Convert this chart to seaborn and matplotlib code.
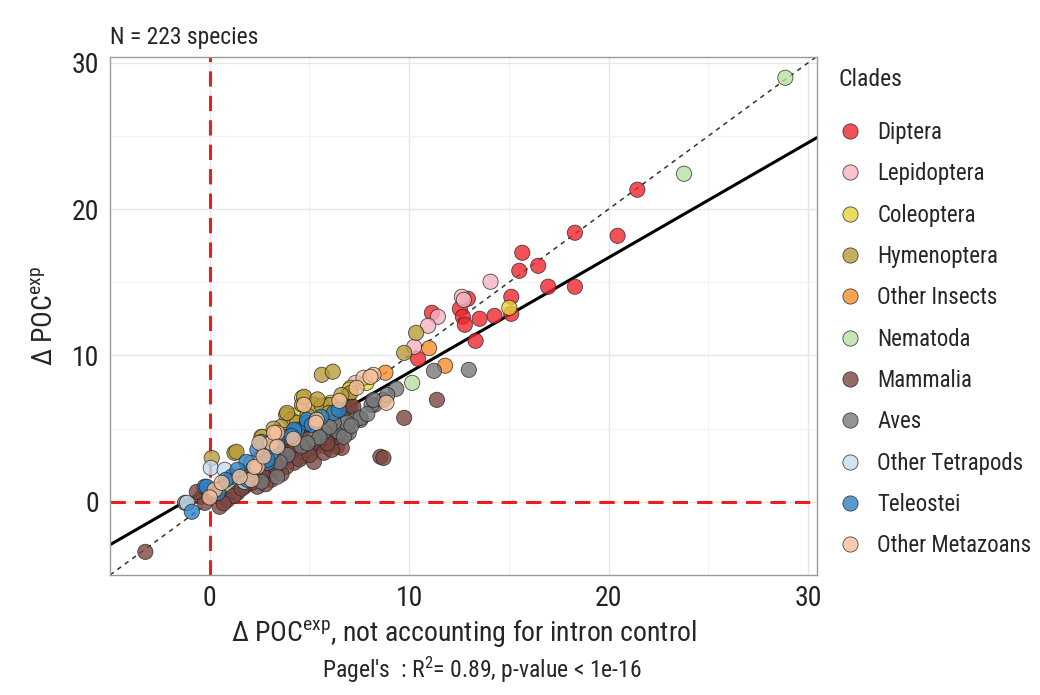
import matplotlib
matplotlib.use('Agg')
import matplotlib.pyplot as plt
from matplotlib import font_manager as fm
import seaborn as sns
import pandas as pd

# ── Data ──────────────────────────────────────────────────────
CLADES = ['Diptera', 'Lepidoptera', 'Coleoptera', 'Hymenoptera', 'Other Insects',
          'Nematoda', 'Mammalia', 'Aves', 'Other Tetrapods', 'Teleostei',
          'Other Metazoans']
PALETTE = ['#f0262e', '#f5b3c0', '#e8d23a', '#b89b3a', '#f58d2c',
           '#b8e0a0', '#7b4640', '#787878', '#c4dcee', '#2f80c0', '#f4c09c']

diptera_x = [21.44, 20.45, 18.31, 18.31, 16.97, 16.47, 15.67, 15.52, 15.12, 14.28,
             13.53, 13.33, 12.94, 12.54, 12.69, 12.79, 15.12, 11.14, 10.45]
diptera_y = [21.33, 18.18, 18.39, 14.70, 14.70, 16.13, 17.02, 15.79, 14.01, 12.71,
             12.51, 11.00, 13.88, 13.19, 12.65, 12.10, 12.85, 12.92, 9.77]

lepido_x = [14.08, 12.64, 11.44, 10.95, 10.25, 7.31, 12.74]
lepido_y = [15.04, 14.01, 12.65, 12.03, 10.59, 8.13, 13.80]

coleo_x = [15.02, 7.86, 7.06, 7.01, 6.07, 4.63, 2.59, 5.90, 4.30]
coleo_y = [13.26, 8.13, 7.79, 7.66, 6.77, 7.10, 4.44, 6.60, 5.90]

hymeno_x = [0.10, 1.24, 5.62, 6.17, 3.83, 4.08, 10.35, 9.75, 6.97, 4.38,
            4.63, 5.22, 5.62, 6.07, 6.22, 3.58, 2.64, 1.34, 3.88, 4.73,
            5.97, 7.06, 4.90, 3.20, 5.40, 2.90, 6.60]
hymeno_y = [3.00, 3.35, 8.68, 8.89, 5.95, 5.60, 11.55, 10.18, 7.31, 5.40,
            6.63, 6.63, 6.56, 6.63, 5.95, 5.13, 4.44, 3.42, 6.08, 7.18,
            6.08, 7.45, 5.90, 5.00, 7.00, 4.00, 7.30]

oinsect_x = [8.81, 11.00, 11.80, 3.83, 0.60, 1.80, 3.00]
oinsect_y = [8.82, 10.50, 9.30, 4.58, 0.82, 1.20, 2.60]

nemat_x = [28.86, 23.78, 10.15, 1.89, 1.14, 1.50]
nemat_y = [28.98, 22.42, 8.13, 1.98, 1.03, 1.50]

mammal_x = [-3.23, 0.50, -0.40, -0.25, 0.90, 2.39, 2.74, 3.38, 4.08, 4.58,
            5.07, 5.57, 6.37, 6.62, 6.97, 8.56, -0.65, 3.88, 4.38, 4.73,
            5.37, 3.08, 2.09, 1.74, 1.39, -0.10, 0.25, 2.59, 3.58, 3.88,
            4.88, 5.87, 6.37, 7.06, 9.75, 11.39, 8.71, 7.20, 4.13, 4.98,
            5.37, 5.57, 5.22, 4.23, 3.83, 5.72, 6.12, 6.22, 2.90, 1.20,
            1.60, 2.20, 3.30, 4.50, 5.00, 5.90, 6.80, 3.60, 2.80, 0.70]
mammal_y = [-3.42, -0.34, 0.34, -0.07, 0.14, 1.03, 1.71, 2.19, 3.55, 3.08,
            3.90, 4.24, 3.76, 3.69, 6.29, 3.08, 0.68, 3.76, 4.24, 4.37,
            3.76, 1.50, 1.30, 1.03, 0.62, 0.82, 0.48, 1.85, 2.87, 3.08,
            3.55, 3.76, 4.44, 6.49, 5.74, 6.97, 3.00, 6.50, 3.42, 3.55,
            4.03, 4.58, 2.73, 2.67, 2.39, 3.35, 3.55, 4.72, 2.10, 0.40,
            0.90, 1.60, 2.40, 2.90, 3.20, 4.00, 4.60, 1.90, 1.20, -0.10]

aves_x = [12.99, 11.24, 9.35, 8.26, 8.71, 8.11, 7.56, 6.87, 7.31, 6.57,
          8.21, 7.56, 6.97, 6.47, 6.72, 6.87, 6.22, 5.72, 3.38, 2.59,
          -1.24, 5.20, 4.60, 3.90, 7.90, 6.00, 5.50, 4.90, 7.10, 3.50,
          2.10, 8.90]
aves_y = [9.02, 8.95, 7.72, 6.63, 6.97, 6.63, 5.60, 4.92, 5.60, 5.47,
          6.97, 5.74, 4.72, 4.78, 4.44, 5.40, 5.40, 4.78, 1.71, 1.37,
          -0.07, 4.30, 3.80, 3.20, 6.00, 5.10, 4.40, 4.00, 5.20, 2.70,
          1.90, 7.30]

otetra_x = [0.05, -1.14, 0.75, 2.09, 2.59, 3.08, 1.74]
otetra_y = [2.32, -0.07, 2.19, 2.67, 3.08, 3.35, 1.37]

teleo_x = [-0.90, -0.25, 1.09, 1.89, 2.39, 2.89, 4.38, 4.88, 6.22, 2.59,
           3.88, 1.84, 1.39, 3.08, -0.15, 4.88, 5.12, 6.47, 4.23, 2.89,
           0.40, 3.40, 5.60, 2.20, 0.80, 4.10]
teleo_y = [-0.68, 1.03, 1.71, 1.50, 3.55, 2.67, 4.92, 5.40, 6.08, 4.10,
           4.44, 2.73, 2.19, 3.35, 1.03, 5.60, 5.26, 6.29, 4.92, 2.87,
           0.60, 3.90, 5.80, 2.30, 1.50, 4.50]

ometa_x = [0.25, 0.60, 2.39, 3.08, 3.38, 4.73, 5.37, 7.71, 8.21, 7.36,
           2.09, 8.06, 8.86, 3.23, 2.49, 3.38, 2.24, 5.32, 1.50, 4.20,
           6.50, 2.70, 0.00]
ometa_y = [0.82, 1.30, 2.39, 4.03, 4.72, 6.63, 5.60, 8.48, 8.68, 7.79,
           1.50, 8.54, 6.77, 4.72, 4.03, 3.76, 2.39, 5.40, 1.70, 4.30,
           6.90, 3.10, 0.30]

# PGLS fit (Pagel's lambda) as reported
FIT_SLOPE = 0.785
FIT_INTERCEPT = 0.99

series = [(diptera_x, diptera_y), (lepido_x, lepido_y), (coleo_x, coleo_y),
          (hymeno_x, hymeno_y), (oinsect_x, oinsect_y), (nemat_x, nemat_y),
          (mammal_x, mammal_y), (aves_x, aves_y), (otetra_x, otetra_y),
          (teleo_x, teleo_y), (ometa_x, ometa_y)]

df = pd.concat([pd.DataFrame({'x': sx, 'y': sy, 'clade': c})
                for c, (sx, sy) in zip(CLADES, series)], ignore_index=True)

# ── Font: prefer a narrow/condensed face if one is installed ──
sns.set_style('white')
names = {f.name for f in fm.fontManager.ttflist}
narrow = None
for cand in ['Liberation Sans Narrow', 'Roboto Condensed', 'Open Sans Condensed',
             'DejaVu Sans Condensed', 'Noto Sans Condensed']:
    if cand in names:
        narrow = cand
        break
if narrow is None:
    cond = [f for f in fm.fontManager.ttflist
            if 'condensed' in str(f.stretch).lower() or 'Condensed' in f.fname
            or 'Narrow' in f.fname]
    if cond:
        narrow = cond[0].name
        plt.rcParams['font.stretch'] = 'condensed'
BASE = narrow if narrow else 'Roboto'
plt.rcParams['font.family'] = [BASE, 'DejaVu Sans']
plt.rcParams['mathtext.fontset'] = 'custom'
plt.rcParams['mathtext.rm'] = BASE
plt.rcParams['mathtext.it'] = BASE
K = 1.0 if narrow else 0.86   # shrink a wider face

fig = plt.figure(figsize=(10.4, 6.95), dpi=100)
ax = fig.add_axes([0.1058, 0.1727, 0.6798, 0.7453])

ax.set_xlim(-4.7, 30.45)
ax.set_ylim(-5.0, 30.4)
ax.set_xticks([0, 10, 20, 30])
ax.set_yticks([0, 10, 20, 30])
ax.set_xticks([-5, 5, 15, 25], minor=True)
ax.set_yticks([-5, 5, 15, 25], minor=True)
ax.grid(which='major', color='#e6e6e6', linewidth=1.0)
ax.grid(which='minor', color='#f2f2f2', linewidth=0.7)
ax.set_axisbelow(True)
for sp in ax.spines.values():
    sp.set_color('#9a9a9a')
    sp.set_linewidth(1.0)
ax.tick_params(which='major', length=4, color='#555555', labelsize=20 * K,
               labelcolor='#222222', direction='out')
ax.tick_params(which='minor', length=0)

# reference lines
ax.axvline(0, color='#ee1c1c', linestyle=(0, (5, 3)), linewidth=2.2, zorder=1)
ax.axhline(0, color='#ee1c1c', linestyle=(0, (5, 3)), linewidth=2.2, zorder=1)
ax.axline((0, 0), slope=1, color='#333333', linestyle=(0, (3, 3)), linewidth=1.1, zorder=1)
ax.axline((0, FIT_INTERCEPT), slope=FIT_SLOPE, color='black', linewidth=2.2, zorder=1)

sns.scatterplot(data=df, x='x', y='y', hue='clade', hue_order=CLADES,
                palette=dict(zip(CLADES, PALETTE)), s=120, alpha=0.8,
                edgecolor='#222222', linewidth=0.6, ax=ax, zorder=3)

ax.set_xlabel('Δ POC$^{\\mathrm{exp}}$, not accounting for intron control',
              fontsize=20 * K, labelpad=3)
ax.set_ylabel('Δ POC$^{\\mathrm{exp}}$', fontsize=20 * K, labelpad=10)
ax.set_title('N = 223 species', loc='left', fontsize=17 * K, pad=9)

fig.text(0.463, 0.015, "Pagel's  : R$^{2}$= 0.89, p-value < 1e-16",
         ha='center', va='bottom', fontsize=17 * K)

handles, labels = ax.get_legend_handles_labels()
ax.legend_.remove()
for h in handles:
    h.set_alpha(0.8)
fig.text(838 / 1040, 1 - 80 / 695, 'Clades', ha='left', va='center',
         fontsize=17 * K)
fig.legend(handles, labels, loc='upper left',
           bbox_to_anchor=(0.806, 1 - 121 / 695), frameon=False,
           fontsize=16.5 * K, labelspacing=0.8, handletextpad=0.7,
           handlelength=1.0, borderpad=0, borderaxespad=0, markerscale=1.0)

fig.savefig('out.png', dpi=100)
